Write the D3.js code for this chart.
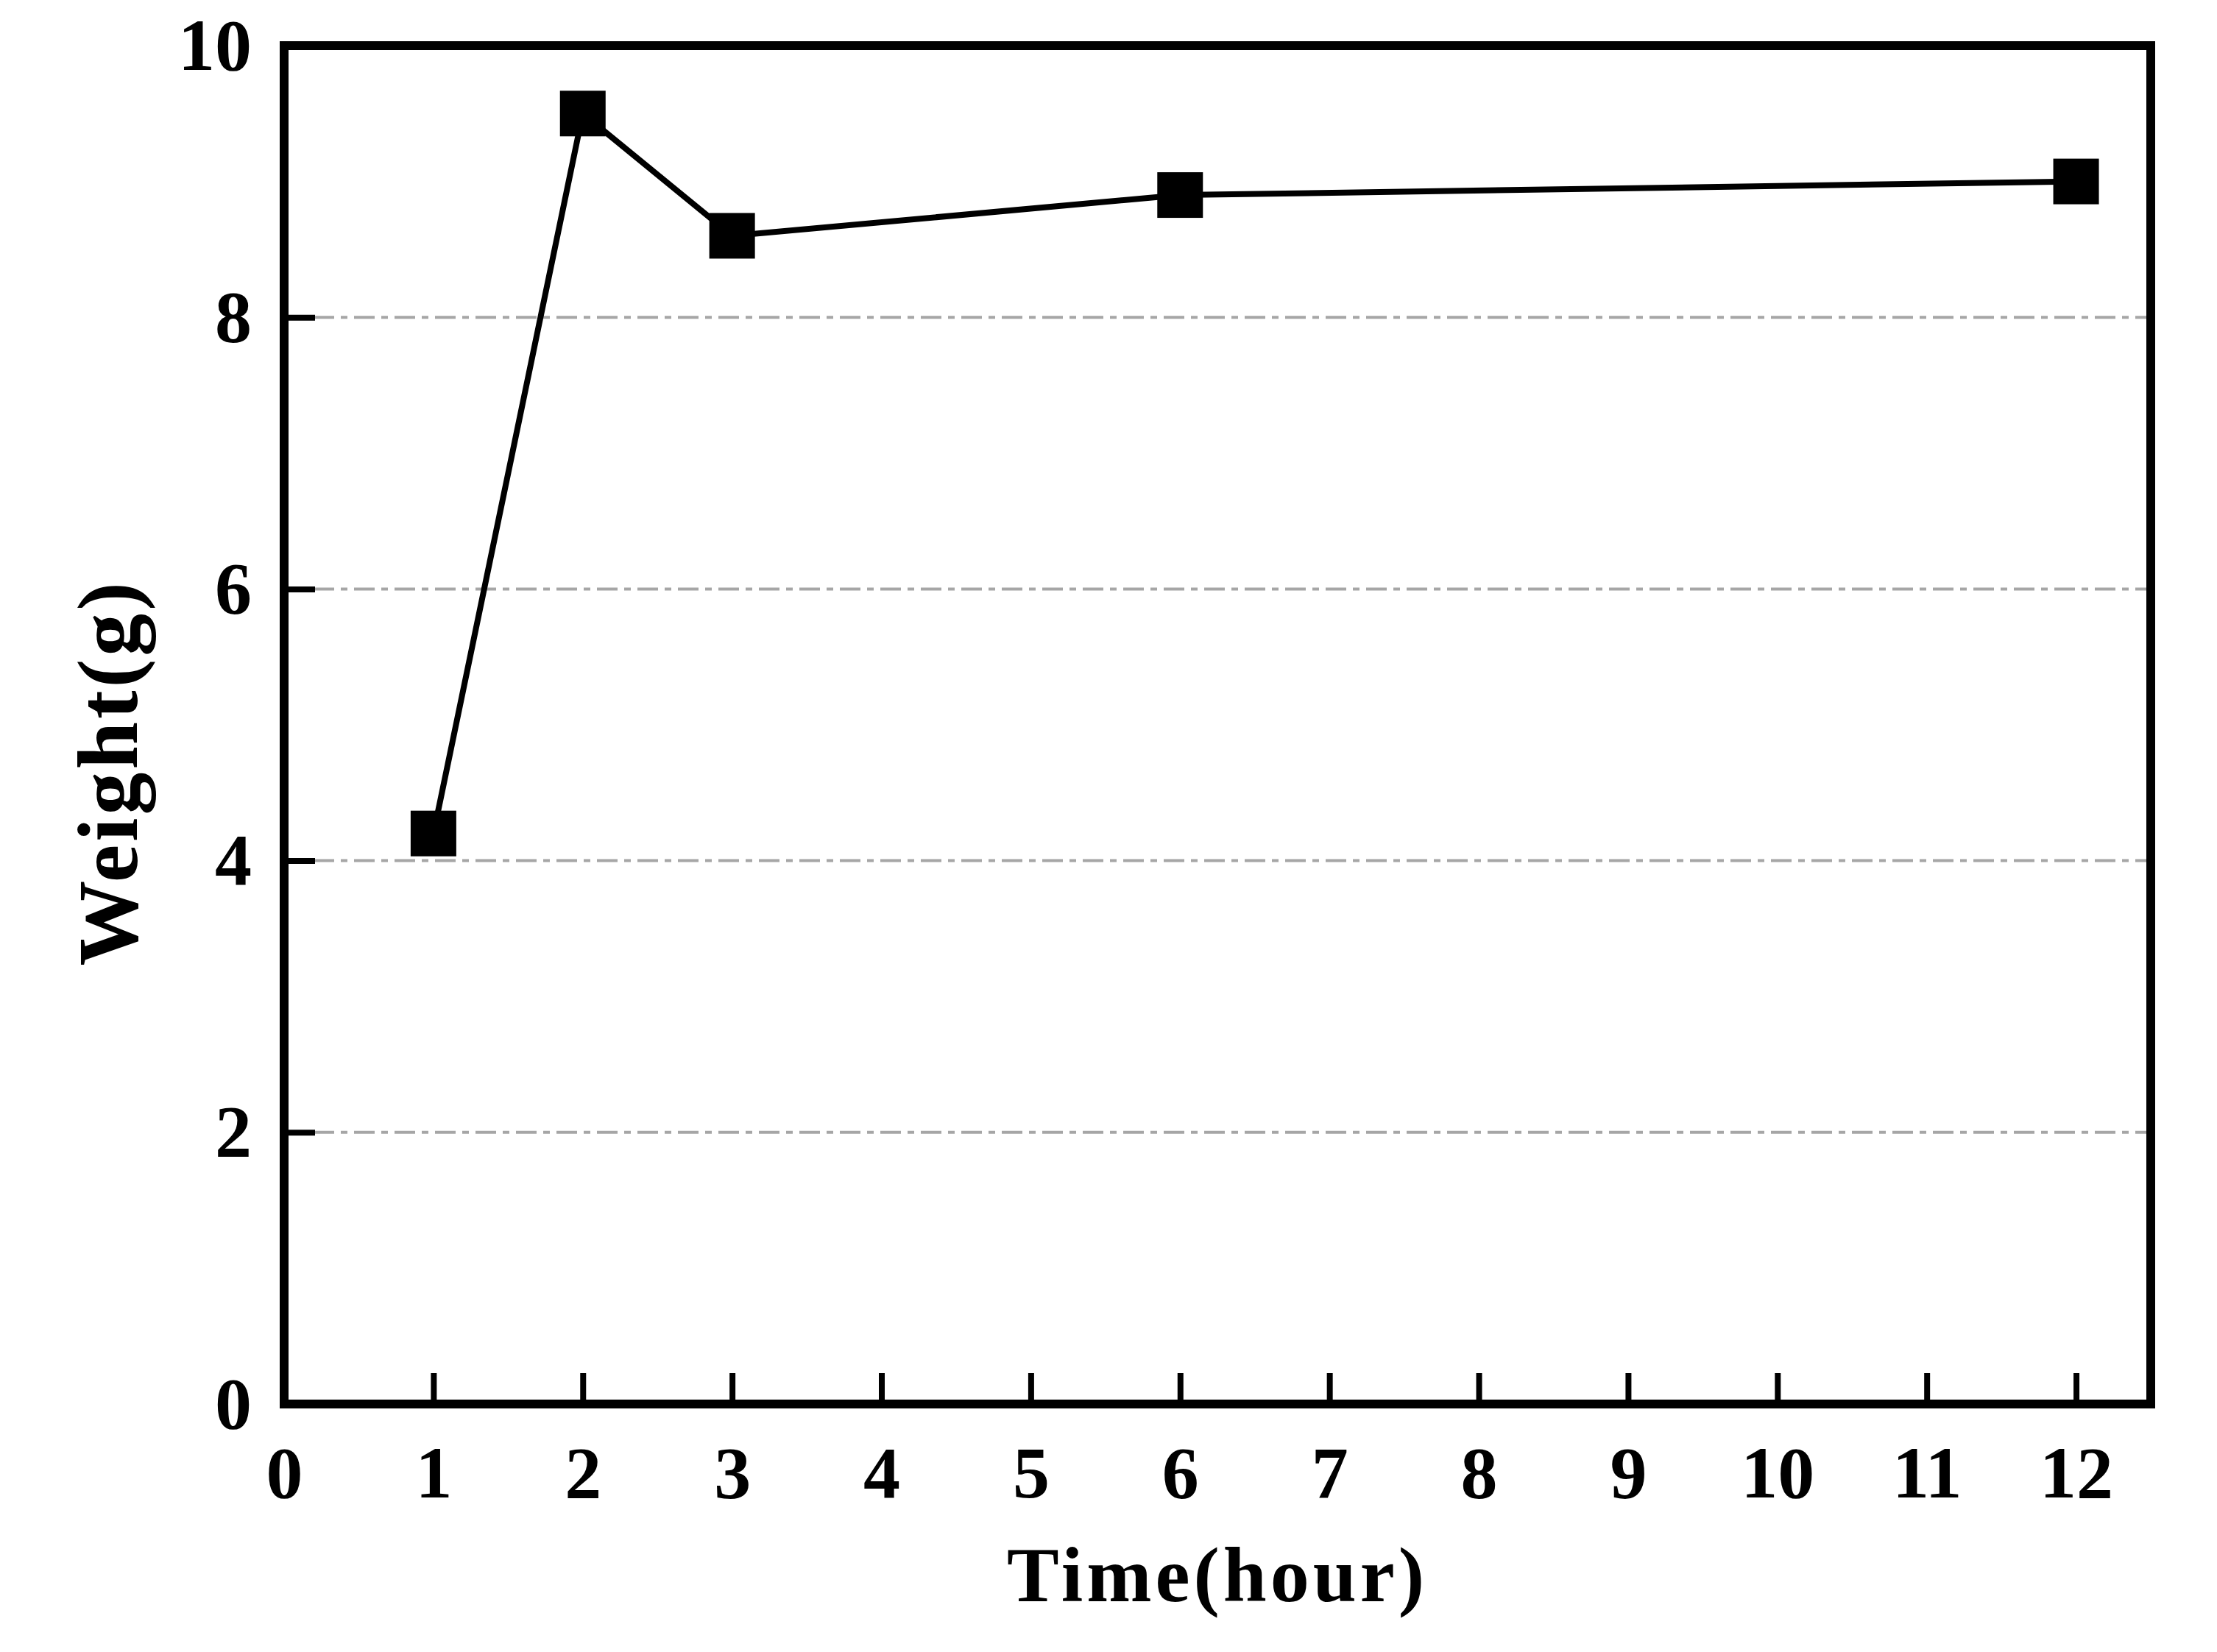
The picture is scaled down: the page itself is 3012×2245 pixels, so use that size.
<!DOCTYPE html>
<meta charset="utf-8">
<style>
    body { margin: 0; background: #fff; }
    svg text { font-family: 'Liberation Serif', 'Times New Roman', serif; font-weight: bold; fill: #000; }
</style>
<svg width="3012" height="2245"></svg>
<script src="https://d3js.org/d3.v7.min.js"></script>
<script>

    // data
    var hours = [1, 2, 3, 6, 12];
    var weight = [4.2, 9.5, 8.6, 8.9, 9.0];
    var xTickValues = [0, 1, 2, 3, 4, 5, 6, 7, 8, 9, 10, 11, 12];
    var yTickValues = [0, 2, 4, 6, 8, 10];
    var gridValues = [2, 4, 6, 8];

    var svg = d3.select("svg"),
        margin = {top: 62, right: 90, bottom: 337, left: 386},
        width = +svg.attr("width") - margin.left - margin.right,
        height = +svg.attr("height") - margin.top - margin.bottom;

    var g = svg.append("g").attr("transform", "translate(" + margin.left + "," + margin.top + ")");

    var x = d3.scaleLinear().domain([0, 12.5]).range([0, width]);
    var y = d3.scaleLinear().domain([0, 10]).range([height, 0]);

    // dash-dot grid lines
    g.append("g")
        .selectAll("line")
        .data(gridValues)
        .enter().append("line")
        .attr("x1", 40)
        .attr("x2", width)
        .attr("y1", function (d) { return y(d); })
        .attr("y2", function (d) { return y(d); })
        .style("stroke", "#a6a6a6")
        .style("stroke-width", 4)
        .style("stroke-dasharray", "28,9,9,9");

    var xAxis = g.append("g")
        .attr("transform", "translate(0," + height + ")")
        .call(d3.axisBottom(x).tickValues(xTickValues).tickFormat(d3.format("d"))
            .tickSizeInner(-42).tickSizeOuter(0).tickPadding(56));

    var yAxis = g.append("g")
        .call(d3.axisLeft(y).tickValues(yTickValues).tickFormat(d3.format("d"))
            .tickSizeInner(-42).tickSizeOuter(0).tickPadding(44));

    [xAxis, yAxis].forEach(function (a) {
        a.select(".domain").remove();
        a.selectAll(".tick line").style("stroke", "#000").style("stroke-width", 8);
        a.selectAll(".tick text")
            .style("font-family", "'Liberation Serif', serif")
            .style("font-weight", "bold")
            .style("font-size", "100px")
            .style("fill", "#000");
    });

    // frame
    g.append("rect")
        .attr("x", 0).attr("y", 0)
        .attr("width", width).attr("height", height)
        .style("fill", "none")
        .style("stroke", "#000")
        .style("stroke-width", 12);

    var points = hours.map(function (h, i) { return {h: h, w: weight[i]}; });

    var line = d3.line()
        .x(function (d) { return x(d.h); })
        .y(function (d) { return y(d.w); });

    g.append("path")
        .datum(points)
        .attr("d", line)
        .style("fill", "none")
        .style("stroke", "#000")
        .style("stroke-width", 8);

    var size = 62;
    g.append("g")
        .selectAll("rect")
        .data(points)
        .enter().append("rect")
        .attr("x", function (d) { return x(d.h) - size / 2; })
        .attr("y", function (d) { return y(d.w) - size / 2; })
        .attr("width", size)
        .attr("height", size)
        .style("fill", "#000");

    // axis titles
    svg.append("text")
        .attr("x", margin.left + width / 2)
        .attr("y", 2176)
        .attr("text-anchor", "middle")
        .style("font-size", "106px")
        .style("letter-spacing", "5px")
        .text("Time(hour)");

    svg.append("text")
        .attr("transform", "translate(186,1050) rotate(-90)")
        .attr("text-anchor", "middle")
        .style("font-size", "116px")
        .style("letter-spacing", "4px")
        .text("Weight(g)");

</script>
